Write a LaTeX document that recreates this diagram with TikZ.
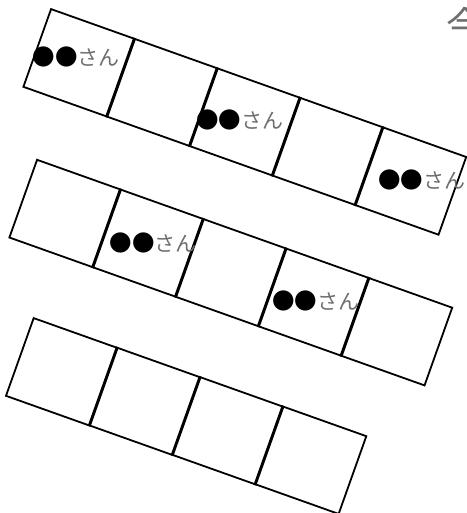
\documentclass[tikz,border=0pt]{standalone}
\usepackage{fontspec}
\newfontfamily\jpfont{Noto Sans CJK JP}
\usetikzlibrary{calc}
\definecolor{namegrey}{RGB}{110,110,110}
\newcommand\blackdots{{\color{black}\fontsize{22.5}{22}\selectfont ●●}}
\begin{document}
\begin{tikzpicture}[x=1pt,y=-1pt,
  cell/.style={draw=black,line width=1.8pt,rotate=-19.6,minimum width=89.1pt,minimum height=82.5pt,inner sep=0pt},
  person/.style={font=\jpfont\fontsize{21}{21}\selectfont,inner sep=0pt,text=namegrey}]
\useasboundingbox (0,0) rectangle (466,513);
% three rows of cells
\foreach \i [count=\n] in {0,...,4} \node[cell] (a\n) at ($(79.2,62.9)+\i*(82.8,29.5)$) {};
\foreach \i [count=\n] in {0,...,4} \node[cell] (b\n) at ($(65.2,213.6)+\i*(82.8,29.5)$) {};
\foreach \i [count=\n] in {0,...,3} \node[cell] (c\n) at ($(61.8,371.9)+\i*(82.9,29.4)$) {};
% names
\node[person] (na1) at (76,57) {\blackdots さん};
\node[person] (na3) at (239.5,120) {\blackdots さん};
\node[person] (na5) at (421.7,180) {\blackdots さん};
\node[person] (nb2) at (153,242.7) {\blackdots さん};
\node[person] (nb4) at (315.8,300.7) {\blackdots さん};
\node[person,font=\jpfont\fontsize{38}{38}\selectfont,anchor=north west] (kon) at (446,7) {今};
\end{tikzpicture}
\end{document}
